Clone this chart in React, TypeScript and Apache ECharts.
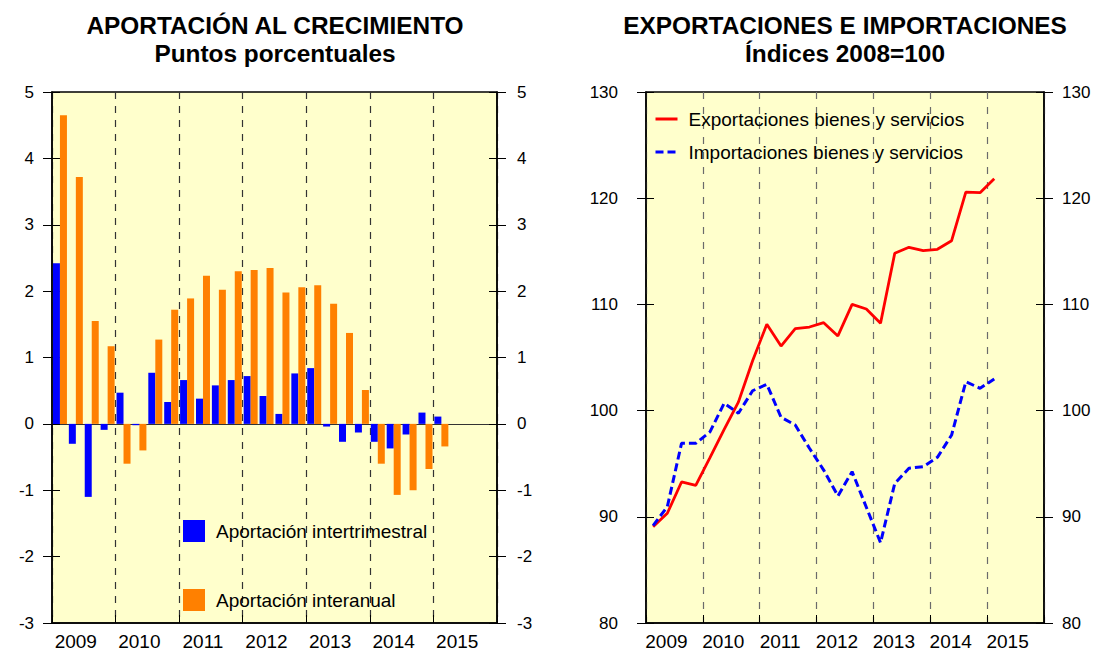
import React, { useEffect, useRef } from "react";
import * as echarts from "echarts";

const FONT = "'Liberation Sans', Arial, sans-serif";

const years = ["2009", "2010", "2011", "2012", "2013", "2014", "2015"];
const quarters = years.flatMap((y) => ["I", "II", "III", "IV"].map((q) => `${q} ${y}`));

const intertrimestral = [2.42, -0.3, -1.1, -0.09, 0.47, -0.02, 0.77, 0.33, 0.66, 0.38, 0.58, 0.66, 0.72, 0.42, 0.15, 0.76, 0.84, -0.04, -0.27, -0.13, -0.27, -0.37, -0.16, 0.17, 0.11];
const interanual = [4.65, 3.72, 1.55, 1.17, -0.6, -0.4, 1.27, 1.72, 1.89, 2.23, 2.02, 2.3, 2.32, 2.35, 1.98, 2.06, 2.09, 1.81, 1.37, 0.51, -0.6, -1.07, -1.0, -0.68, -0.34];

const exportaciones = [89.07, 90.33, 93.28, 92.96, 95.57, 98.24, 100.8, 104.7, 108.13, 106.08, 107.71, 107.87, 108.28, 107.03, 110.0, 109.57, 108.22, 114.81, 115.38, 115.06, 115.19, 116.0, 120.58, 120.52, 121.84];
const importaciones = [89.17, 90.95, 96.92, 96.92, 98.0, 100.69, 99.75, 101.87, 102.48, 99.37, 98.64, 96.45, 94.4, 91.96, 94.25, 90.9, 87.56, 93.14, 94.57, 94.72, 95.6, 97.7, 102.72, 102.1, 102.98];

const leftTitle = ["APORTACIÓN AL CRECIMIENTO", "Puntos porcentuales"];
const rightTitle = ["EXPORTACIONES E IMPORTACIONES", "Índices 2008=100"];
const barNames = ["Aportación intertrimestral", "Aportación interanual"];
const lineNames = ["Exportaciones bienes y servicios", "Importaciones bienes y servicios"];

function yAxes(grid: number, min: number, max: number, interval: number, lm: number, rm: number) {
  const base = { gridIndex: grid, type: "value", min, max, interval, splitLine: { show: false } };
  const line = { show: true, lineStyle: { color: "#000", width: 1.5 } };
  const lbl = { fontSize: 17, color: "#000", fontFamily: FONT };
  return [
    { ...base, position: "left", axisLine: line, axisTick: { show: true, length: 9, lineStyle: { color: "#000" } }, axisLabel: { ...lbl, margin: lm } },
    { ...base, position: "right", axisLine: line, axisTick: { show: true, length: 9, lineStyle: { color: "#000" } }, axisLabel: { ...lbl, margin: rm } },
    { ...base, position: "left", axisLine: { show: false }, axisTick: { show: true, inside: true, length: 8, lineStyle: { color: "#000" } }, axisLabel: { show: false } },
    { ...base, position: "right", axisLine: { show: false }, axisTick: { show: true, inside: true, length: 8, lineStyle: { color: "#000" } }, axisLabel: { show: false } },
  ];
}

function yearAxis(grid: number, dash: number[], color: string) {
  return {
    gridIndex: grid,
    type: "category",
    data: years,
    position: "bottom",
    boundaryGap: true,
    axisLine: { show: true, onZero: false, lineStyle: { color: "#000", width: 1.5 } },
    axisTick: { show: true, inside: true, length: 8, lineStyle: { color: "#000" } },
    axisLabel: { fontSize: 19, color: "#000", fontFamily: FONT, margin: 9, padding: [0, 16, 0, 0] },
    splitLine: { show: true, lineStyle: { color, type: dash, width: 1.2 } },
  };
}

function titleText(x: number, lines: string[]) {
  return lines.map((t, i) => ({
    type: "text",
    x,
    y: 25 + i * 28,
    style: { text: t, font: `bold 24.4px ${FONT}`, fill: "#000", textAlign: "center", textVerticalAlign: "middle" },
  }));
}

export default function App() {
  const ref = useRef<HTMLDivElement>(null);
  useEffect(() => {
    const chart = echarts.init(ref.current!, null, { renderer: "svg" });
    const option: any = {
      animation: false,
      textStyle: { fontFamily: FONT },
      grid: [
        { left: 52, top: 92, width: 445, height: 531, show: true, backgroundColor: "#FFFFCC", borderColor: "#000", borderWidth: 1.5 },
        { left: 646, top: 92, width: 398, height: 531, show: true, backgroundColor: "#FFFFCC", borderColor: "#000", borderWidth: 1.5 },
      ],
      xAxis: [
        {
          gridIndex: 0,
          type: "category",
          data: quarters,
          position: "bottom",
          axisLine: { show: true, onZero: true, lineStyle: { color: "#333", width: 1.2 } },
          axisTick: { show: false },
          axisLabel: { show: false },
          splitLine: { show: false },
        },
        yearAxis(0, [7, 7], "#333"),
        { gridIndex: 1, type: "category", data: quarters, show: false },
        yearAxis(1, [7, 8], "#6b6b6b"),
      ],
      yAxis: [...yAxes(0, -3, 5, 1, 18, 20), ...yAxes(1, 80, 130, 10, 28, 18)],
      legend: [
        {
          data: barNames,
          orient: "vertical",
          left: 183,
          top: 520,
          padding: 0,
          itemWidth: 22,
          itemHeight: 22,
          itemGap: 47,
          icon: "rect",
          selectedMode: false,
          textStyle: { fontSize: 19, color: "#000", fontFamily: FONT, padding: [0, 0, 0, 6] },
        },
        {
          data: lineNames,
          orient: "vertical",
          left: 654,
          top: 109,
          padding: 0,
          itemWidth: 22,
          itemHeight: 10,
          itemGap: 13,
          selectedMode: false,
          itemStyle: { opacity: 0 },
          lineStyle: { width: 3 },
          textStyle: { fontSize: 19, color: "#000", fontFamily: FONT, lineHeight: 20, padding: [0, 0, 0, 6] },
        },
      ],
      graphic: [...titleText(275, leftTitle), ...titleText(845, rightTitle)],
      series: [
        {
          name: barNames[0],
          type: "bar",
          xAxisIndex: 0,
          yAxisIndex: 0,
          data: intertrimestral,
          barWidth: 7,
          barGap: "0%",
          itemStyle: { color: "#0000FF" },
        },
        {
          name: barNames[1],
          type: "bar",
          xAxisIndex: 0,
          yAxisIndex: 0,
          data: interanual,
          barWidth: 7,
          barGap: "0%",
          itemStyle: { color: "#FF8000" },
        },
        {
          name: lineNames[0],
          type: "line",
          xAxisIndex: 2,
          yAxisIndex: 4,
          data: exportaciones,
          symbol: "none",
          showSymbol: false,
          lineStyle: { color: "#FF0000", width: 2.8 },
          itemStyle: { color: "#FF0000" },
        },
        {
          name: lineNames[1],
          type: "line",
          xAxisIndex: 2,
          yAxisIndex: 4,
          data: importaciones,
          symbol: "none",
          showSymbol: false,
          lineStyle: { color: "#0000FF", width: 3, type: [8, 4] },
          itemStyle: { color: "#0000FF" },
        },
      ],
    };
    chart.setOption(option);
    return () => chart.dispose();
  }, []);
  return (
    <div
      ref={ref}
      style={{ position: "fixed", left: 0, top: 0, width: 1109, height: 657, background: "#fff" }}
    />
  );
}
